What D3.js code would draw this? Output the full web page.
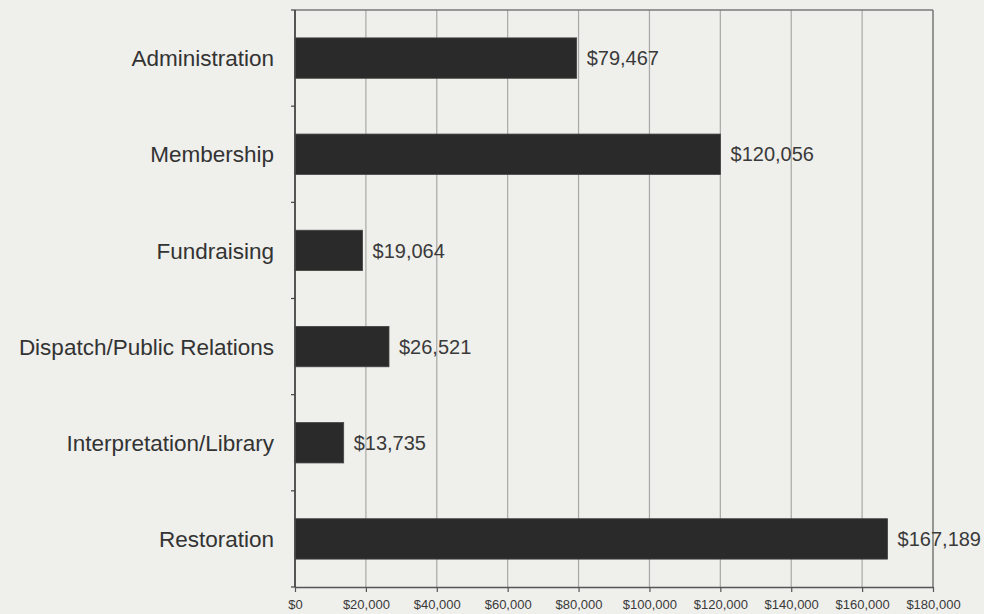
<!DOCTYPE html>
<html><head><meta charset="utf-8">
<script src="https://cdn.jsdelivr.net/npm/d3@7"></script>
<style>
html,body{margin:0;padding:0;background:#efefec;}
svg{display:block;}
</style></head>
<body>
<svg id="chart" width="984" height="614"></svg>
<script>
const categories = ["Administration","Membership","Fundraising","Dispatch/Public Relations","Interpretation/Library","Restoration"];
const values = [79467,120056,19064,26521,13735,167189];
const valueLabels = ["$79,467","$120,056","$19,064","$26,521","$13,735","$167,189"];
const tickValues = [0,20000,40000,60000,80000,100000,120000,140000,160000,180000];
const tickLabels = ["$0","$20,000","$40,000","$60,000","$80,000","$100,000","$120,000","$140,000","$160,000","$180,000"];

const W=984,H=614, L=295, R=933, T=10, B=587;
const svg=d3.select("#chart");
svg.append("rect").attr("width",W).attr("height",H).attr("fill","#efefec");

const x=d3.scaleLinear().domain([0,180000]).range([L,R]);
const y=d3.scaleBand().domain(categories).range([T,B]).paddingInner(0.58).paddingOuter(0.29);

// gridlines
svg.append("g").selectAll("line").data(tickValues.slice(1)).join("line")
  .attr("x1",d=>x(d)).attr("x2",d=>x(d)).attr("y1",T).attr("y2",B)
  .attr("stroke","#a8a8a6").attr("stroke-width",1.2);
// frame top/right
svg.append("line").attr("x1",L).attr("x2",R).attr("y1",T).attr("y2",T).attr("stroke","#7a7a78").attr("stroke-width",1.3);
svg.append("line").attr("x1",R).attr("x2",R).attr("y1",T).attr("y2",B).attr("stroke","#7a7a78").attr("stroke-width",1.3);

// bars
svg.append("g").selectAll("rect").data(values).join("rect")
  .attr("x",x(0)).attr("y",(d,i)=>y(categories[i]))
  .attr("width",d=>x(d)-x(0)).attr("height",y.bandwidth())
  .attr("fill","#2a2a2a").attr("stroke","#444").attr("stroke-width",0.8);

// x axis
const xAxis=d3.axisBottom(x).tickValues(tickValues).tickFormat((d,i)=>tickLabels[i]).tickSizeInner(5).tickSizeOuter(0).tickPadding(8);
const gx=svg.append("g").attr("transform",`translate(0,${B})`).call(xAxis);
gx.select(".domain").attr("stroke","#555").attr("stroke-width",1.6);
gx.selectAll(".tick line").attr("stroke","#555").attr("stroke-width",1.2);
gx.selectAll(".tick text").attr("fill","#3a3a3a").style("font-family","'Liberation Sans Narrow','Liberation Sans',Arial,sans-serif").style("font-size","13px");

// y axis line and ticks at band boundaries
svg.append("line").attr("x1",L).attr("x2",L).attr("y1",T).attr("y2",B).attr("stroke","#444").attr("stroke-width",1.8);
const bounds=d3.range(categories.length+1).map(i=>T+i*y.step());
svg.append("g").selectAll("line").data(bounds).join("line")
  .attr("x1",L-4).attr("x2",L).attr("y1",d=>d).attr("y2",d=>d)
  .attr("stroke","#444").attr("stroke-width",1.2);

// category labels
svg.append("g").selectAll("text").data(categories).join("text")
  .attr("x",274).attr("y",d=>y(d)+y.bandwidth()/2).attr("dy","0.36em")
  .attr("text-anchor","end").attr("fill","#333")
  .style("font-family","'Liberation Sans',Arial,sans-serif").style("font-size","22.5px")
  .text(d=>d);

// value labels
svg.append("g").selectAll("text").data(values).join("text")
  .attr("x",d=>x(d)+10).attr("y",(d,i)=>y(categories[i])+y.bandwidth()/2).attr("dy","0.36em")
  .attr("fill","#3a3a3a")
  .style("font-family","'Liberation Sans',Arial,sans-serif").style("font-size","20px")
  .text((d,i)=>valueLabels[i]);
</script>
</body></html>
